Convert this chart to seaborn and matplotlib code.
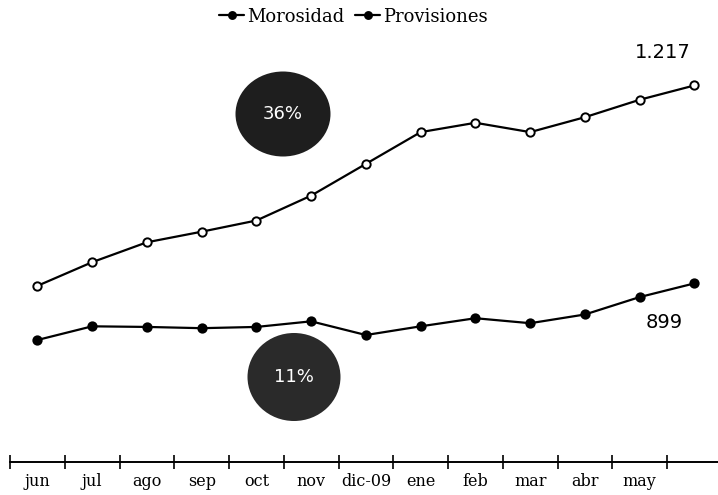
import matplotlib
matplotlib.use("Agg")
import matplotlib.pyplot as plt
import numpy as np
import pandas as pd
import seaborn as sns
from matplotlib.patches import Ellipse

# months (last point has no label on the axis)
months = ["jun", "jul", "ago", "sep", "oct", "nov", "dic-09",
          "ene", "feb", "mar", "abr", "may", ""]
morosidad = [895, 933, 965, 982, 1000, 1040, 1091, 1142, 1157, 1142, 1166, 1194, 1217]
provisiones = [808, 830, 829, 827, 829, 838, 816, 830, 843, 835, 849, 877, 899]

df = pd.DataFrame({
    "x": list(range(len(months))) * 2,
    "valor": morosidad + provisiones,
    "serie": ["Morosidad"] * len(months) + ["Provisiones"] * len(months),
})

sns.set_theme(style="white")
plt.rcParams["font.family"] = ["DejaVu Serif"]
plt.rcParams["text.color"] = "black"
plt.rcParams["xtick.color"] = "black"

fig = plt.figure(figsize=(7.18, 4.95), dpi=100)
ax = fig.add_axes([10 / 718, 33 / 495, 708 / 718, 422 / 495])

for name, face in [("Morosidad", "white"), ("Provisiones", "black")]:
    sub = df[df["serie"] == name]
    sns.lineplot(data=sub, x="x", y="valor", ax=ax, color="black", lw=1.6,
                 marker="o", markersize=6, markerfacecolor=face,
                 markeredgecolor="black", markeredgewidth=1.4, label=name)

ax.set_xlim(-0.5, 12.43)
ax.set_ylim(612, 1290)
ax.set_xlabel("")
ax.set_ylabel("")
for s in ["top", "right", "left"]:
    ax.spines[s].set_visible(False)
ax.spines["bottom"].set_color("black")
ax.spines["bottom"].set_linewidth(1.4)
ax.set_yticks([])

# ticks between months, labels under the points
ax.set_xticks(np.arange(-0.5, 12, 1))
ax.set_xticklabels([])
ax.set_xticks(np.arange(0, 12), minor=True)
ax.set_xticklabels(months[:12], minor=True, fontsize=11.5)
ax.tick_params(axis="x", which="major", bottom=True, direction="inout", length=10,
               width=1.2, color="black")
ax.tick_params(axis="x", which="minor", bottom=True, length=0, pad=8)

leg = ax.legend(loc="upper center", bbox_to_anchor=(0.485, 1.115), ncol=2, frameon=False,
                fontsize=13, handlelength=1.4, handletextpad=0.15, columnspacing=0.6)
for h in leg.legend_handles:
    h.set_markerfacecolor("black")
    h.set_markersize(5)

# end values
fig.text(663 / 718, 1 - 52 / 495, "1.217", ha="center", va="center", fontsize=14,
         family=["DejaVu Sans"])
fig.text(664 / 718, 1 - 322 / 495, "899", ha="center", va="center", fontsize=14,
         family=["DejaVu Sans"])

# growth bubbles
for cx, cy, w, h, col, txt in [(283, 114, 95, 85, "#1e1e1e", "36%"),
                               (294, 377, 93, 88, "#2a2a2a", "11%")]:
    e = Ellipse((cx / 718, 1 - cy / 495), w / 718, h / 495, transform=fig.transFigure,
                facecolor=col, edgecolor="none", zorder=5)
    fig.patches.append(e)
    fig.text(cx / 718, 1 - cy / 495, txt, ha="center", va="center", color="white",
             fontsize=13, family=["DejaVu Sans"], zorder=6)

fig.savefig("out.png", dpi=100)
